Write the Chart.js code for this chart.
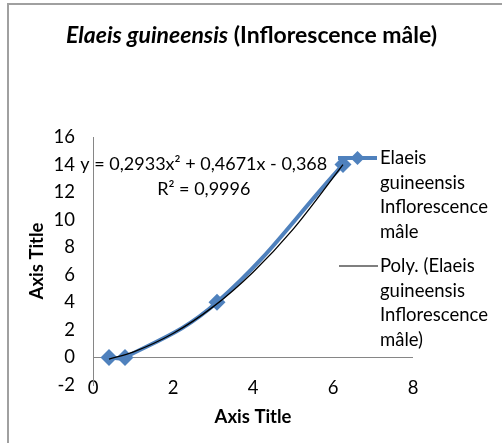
<!DOCTYPE html>
<html>
<head>
<meta charset="utf-8">
<script src="https://cdn.jsdelivr.net/npm/chart.js@4.4.1/dist/chart.umd.min.js"></script>
<style>
  html, body { margin: 0; padding: 0; background: #fff; }
</style>
</head>
<body>
<canvas id="myChart" width="502" height="443"></canvas>
<script>
// measured data (Elaeis guineensis, male inflorescence)
const xValues = [0.4, 0.8, 3.1, 6.25];
const yValues = [0, 0, 4, 14];
// polynomial trend line
const trendX = [0.4, 1, 2, 3, 4, 5, 6.25];
const trendY = [-0.13, 0.39, 1.74, 3.67, 6.19, 9.3, 14.0];
const xTicks = [0, 2, 4, 6, 8];
const yTicks = [-2, 0, 2, 4, 6, 8, 10, 12, 14, 16];

const seriesName = 'Elaeis guineensis Inflorescence mâle';
const trendName = 'Poly. (Elaeis guineensis Inflorescence mâle)';
const equation = ['y = 0,2933x² + 0,4671x - 0,368', 'R² = 0,9996'];

const blue = '#4F81BD';
const axisGrey = '#868686';
const fam = 'Lato, sans-serif';
const txtSize = 18.5;

// draws frame, title, equation and wrapped legend
const decor = {
  id: 'decor',
  beforeDraw(chart) {
    const c = chart.ctx;
    c.save();
    c.fillStyle = '#fff';
    c.fillRect(0, 0, chart.width, chart.height);
    c.strokeStyle = '#a0a0a0';
    c.lineWidth = 2;
    c.strokeRect(8, 4, chart.width, chart.height);
    c.restore();
  },
  afterDraw(chart) {
    const c = chart.ctx;
    const xs = chart.scales.x, ys = chart.scales.y;
    c.save();
    c.fillStyle = '#000';
    c.textBaseline = 'middle';

    // title: italic species name + bold rest
    const t1 = 'Elaeis guineensis', t2 = ' (Inflorescence mâle)';
    const f1 = 'italic bold 23px ' + fam, f2 = 'bold 23px ' + fam;
    c.font = f1; const w1 = c.measureText(t1).width;
    c.font = f2; const w2 = c.measureText(t2).width;
    let tx = 251.5 - (w1 + w2) / 2;
    c.textAlign = 'left';
    c.font = f1; c.fillText(t1, tx, 36);
    c.font = f2; c.fillText(t2, tx + w1, 36);

    // trend equation
    c.font = '18px ' + fam;
    c.textAlign = 'center';
    const ex = xs.getPixelForValue(2.77);
    const ey = ys.getPixelForValue(14.05);
    c.fillText(equation[0], ex, ey);
    c.fillText(equation[1], ex, ey + 25);

    // legend
    c.font = txtSize + 'px ' + fam;
    c.textAlign = 'left';
    const lh = 24.7;
    const l1 = ['Elaeis', 'guineensis', 'Inflorescence', 'mâle'];
    const l2 = ['Poly. (Elaeis', 'guineensis', 'Inflorescence', 'mâle)'];
    let y = 158;
    c.strokeStyle = blue; c.lineWidth = 4;
    c.beginPath(); c.moveTo(338, y); c.lineTo(377, y); c.stroke();
    c.fillStyle = blue;
    c.beginPath();
    c.moveTo(357.5, y - 7); c.lineTo(364.5, y); c.lineTo(357.5, y + 7); c.lineTo(350.5, y);
    c.closePath(); c.fill();
    c.fillStyle = '#000';
    l1.forEach((s, i) => c.fillText(s, 380, y + i * lh));
    y = 266;
    c.strokeStyle = '#000'; c.lineWidth = 1.2;
    c.beginPath(); c.moveTo(339, y); c.lineTo(378, y); c.stroke();
    l2.forEach((s, i) => c.fillText(s, 380, y + i * lh));
    c.restore();
  }
};

const ctx = document.getElementById('myChart');

new Chart(ctx, {
  type: 'scatter',
  data: {
    datasets: [
      {
        label: trendName,
        data: trendX.map((x, i) => ({ x: x, y: trendY[i] })),
        showLine: true,
        borderColor: '#000',
        borderWidth: 1.3,
        pointRadius: 0,
        cubicInterpolationMode: 'monotone',
        order: 0
      },
      {
        label: seriesName,
        data: xValues.map((x, i) => ({ x: x, y: yValues[i] })),
        showLine: true,
        borderColor: blue,
        backgroundColor: blue,
        borderWidth: 4,
        pointStyle: 'rectRot',
        pointRadius: 8.5,
        pointBorderWidth: 0,
        tension: 0.4,
        order: 1
      }
    ]
  },
  options: {
    responsive: false,
    animation: false,
    clip: false,
    layout: { padding: { left: 0, top: 137, right: 89, bottom: 0 } },
    plugins: {
      legend: { display: false },
      tooltip: { enabled: false }
    },
    scales: {
      x: {
        type: 'linear',
        position: 'bottom',
        min: xTicks[0],
        max: xTicks[xTicks.length - 1],
        afterBuildTicks: s => { s.ticks = xTicks.map(v => ({ value: v })); },
        ticks: { padding: -16, color: '#000', font: { family: fam, size: txtSize } },
        grid: { display: false },
        border: { display: false },
        title: {
          display: true, text: 'Axis Title', color: '#000',
          font: { family: fam, size: txtSize, weight: 'bold' },
          padding: { top: 0, bottom: 15 }
        },
        afterFit: s => { s.height = 58; },
        // labels sit slightly above the axis box, so don't clip them
        afterUpdate: s => { s._computeLabelArea = () => undefined; }
      },
      y: {
        min: yTicks[0],
        max: yTicks[yTicks.length - 1],
        afterBuildTicks: s => { s.ticks = yTicks.map(v => ({ value: v })); },
        ticks: { padding: 18, color: '#000', font: { family: fam, size: txtSize } },
        grid: {
          drawTicks: false,
          lineWidth: 1,
          color: c => (c.tick && c.tick.value === 0) ? axisGrey : 'rgba(0,0,0,0)'
        },
        border: { display: true, color: axisGrey, width: 1 },
        title: {
          display: true, text: 'Axis Title', color: '#000',
          font: { family: fam, size: txtSize, weight: 'bold' },
          padding: { top: 26, bottom: 0 }
        },
        afterFit: s => { s.width = 93; }
      }
    }
  },
  plugins: [decor]
});
</script>
</body>
</html>
